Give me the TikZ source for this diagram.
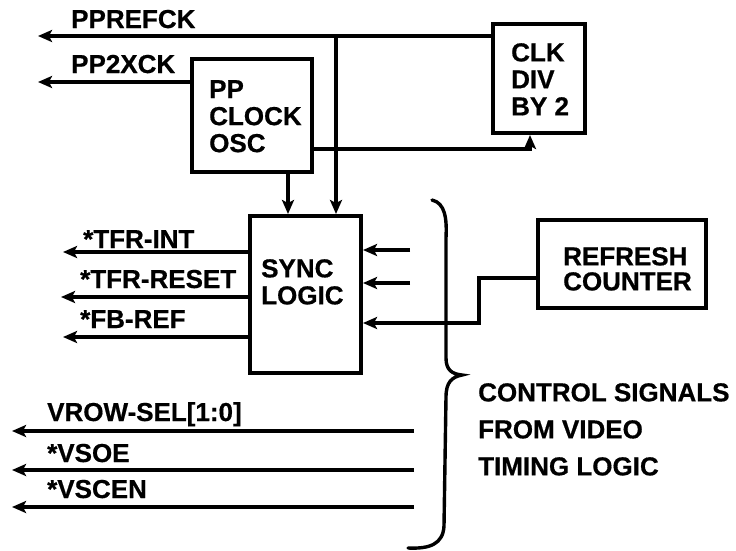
\documentclass[tikz,border=0pt]{standalone}
\usepackage{fontspec}
\setmainfont{Liberation Sans}[BoldFeatures={FakeBold=0.6}]
\usetikzlibrary{arrows.meta}
\begin{document}
\begin{tikzpicture}[x=1pt,y=-1pt,
  sig/.style={line width=3.6pt},
  arr/.style={sig,-{Stealth[length=14pt,width=12pt,inset=3pt]}},
  blk/.style={draw,line width=4pt,inner sep=0pt},
  lbl/.style={inner sep=0pt,anchor=base west,font=\fontsize{26}{27}\selectfont\bfseries},
  txt/.style={inner sep=0pt,anchor=north west,align=left,font=\fontsize{26}{27}\selectfont\bfseries}]
\useasboundingbox (0,0) rectangle (736,550);
% blocks
\node[blk,minimum width=92pt,minimum height=109pt] (clk) at (539,78.5) {};
\node[blk,minimum width=120pt,minimum height=113pt] (osc) at (252,115.5) {};
\node[blk,minimum width=111pt,minimum height=157pt] (sync) at (305.5,294.5) {};
\node[blk,minimum width=168pt,minimum height=88pt] (refr) at (622,264) {};
% block texts
\node[txt] (clkt) at (511,43) {CLK\\DIV\\BY 2};
\node[txt] (osct) at (209,80) {PP\\CLOCK\\OSC};
\node[txt] (synct) at (261,259) {SYNC\\LOGIC};
\node[txt,font=\fontsize{26}{25}\selectfont\bfseries] (refrt) at (563,247) {REFRESH\\COUNTER};
\node[txt,font=\fontsize{26}{37}\selectfont\bfseries] (ctrl) at (478,383) {CONTROL SIGNALS\\FROM VIDEO\\TIMING LOGIC};
% labels
\node[lbl] (l1) at (71,28) {PPREFCK};
\node[lbl] (l2) at (71,73) {PP2XCK};
\node[lbl] (l3) at (83,248) {*TFR-INT};
\node[lbl] (l4) at (80,288) {*TFR-RESET};
\node[lbl] (l5) at (80,328) {*FB-REF};
\node[lbl] (l6) at (47,421) {VROW-SEL[1:0]};
\node[lbl] (l7) at (47,462) {*VSOE};
\node[lbl] (l8) at (47,498) {*VSCEN};
% coordinates
\coordinate (pref) at (38,36);
\coordinate (tap) at (336,36);
\coordinate (p2x) at (38,82);
\coordinate (oscout) at (530,149);
\coordinate (o1) at (63,252);
\coordinate (o2) at (61,297);
\coordinate (o3) at (63,337);
\coordinate (i1) at (410,250);
\coordinate (i2) at (410,283);
\coordinate (rjog) at (479,323);
\coordinate (v1s) at (414,431);
\coordinate (v1e) at (12,431);
\coordinate (v2s) at (414,470);
\coordinate (v2e) at (12,470);
\coordinate (v3s) at (414,507);
\coordinate (v3e) at (12,507);
% connectors
\draw[arr] (clk.west |- pref) -- (pref);
\draw[arr] (tap) -- (tap |- sync.north);
\draw[arr] (osc.west |- p2x) -- (p2x);
\draw[arr] (osc.east |- oscout) -- (oscout) -- (oscout |- clk.south);
\draw[arr] (osc.south -| 288,0) -- (288,0 |- sync.north);
\draw[arr] (sync.west |- o1) -- (o1);
\draw[arr] (sync.west |- o2) -- (o2);
\draw[arr] (sync.west |- o3) -- (o3);
\draw[arr] (i1) -- (i1 -| sync.east);
\draw[arr] (i2) -- (i2 -| sync.east);
\draw[arr] (refr.west |- 0,278) -- (rjog |- 0,278) -- (rjog) -- (rjog -| sync.east);
\draw[arr] (v1s) -- (v1e);
\draw[arr] (v2s) -- (v2e);
\draw[arr] (v3s) -- (v3e);
% brace
\draw[line width=3.4pt,line cap=round]
  (432,200) .. controls (445,203) and (447,218) .. (446,238)
  -- (446,358) .. controls (446,370) and (452,374) .. (462,375)
  .. controls (452,377) and (446,382) .. (446,397)
  -- (444,526) .. controls (443,544) and (430,549) .. (408,548);
\end{tikzpicture}
\end{document}
